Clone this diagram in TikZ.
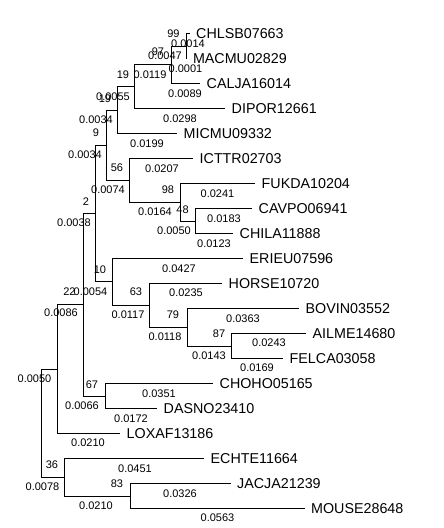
\documentclass[tikz,border=0pt]{standalone}
\usepackage{fontspec}
\setmainfont{Liberation Sans}
\begin{document}
\begin{tikzpicture}[x=1pt,y=-1pt,
  br/.style={draw=black,line width=0.9pt},
  leaf/.style={anchor=west,xshift=6.5pt,inner sep=0pt,font=\fontsize{14.3}{16}\selectfont},
  boot/.style={inner sep=0pt,font=\fontsize{11}{12}\selectfont},
  blen/.style={inner sep=0pt,font=\fontsize{11}{12}\selectfont}]
\fill[white] (0,0) rectangle (444,528);
\useasboundingbox (0,0) rectangle (444,528);
% internal nodes
\coordinate (root) at (41,423.2);
\coordinate (nL) at (57,369.2);
\coordinate (n22) at (83,304.8);
\coordinate (n2) at (95.5,213.6);
\coordinate (n9) at (106,145.2);
\coordinate (n19b) at (117,110);
\coordinate (n19) at (134,86.6);
\coordinate (n97) at (171.5,64.75);
\coordinate (n99) at (186,46);
\coordinate (n56) at (129,180.4);
\coordinate (n98) at (180,202.25);
\coordinate (n48) at (195,221);
\coordinate (n10) at (112.5,281.9);
\coordinate (n63) at (149,305.4);
\coordinate (n79) at (187,327.25);
\coordinate (n87) at (231,346);
\coordinate (n67) at (105,396);
\coordinate (n36) at (64,477.25);
\coordinate (n83) at (130,496);
% leaf tips
\coordinate (tCHLSB) at (189.5,33.5);
\coordinate (tMACMU) at (186.3,58.5);
\coordinate (tCALJA) at (200,83.5);
\coordinate (tDIPOR) at (225,108.5);
\coordinate (tMICMU) at (177,133.5);
\coordinate (tICTTR) at (193,158.5);
\coordinate (tFUKDA) at (255,183.5);
\coordinate (tCAVPO) at (252,208.5);
\coordinate (tCHILA) at (233,233.5);
\coordinate (tERIEU) at (243,258.5);
\coordinate (tHORSE) at (222,283.5);
\coordinate (tBOVIN) at (299,308.5);
\coordinate (tAILME) at (306,333.5);
\coordinate (tFELCA) at (283,358.5);
\coordinate (tCHOHO) at (213,383.5);
\coordinate (tDASNO) at (157,408.5);
\coordinate (tLOXAF) at (120,433.5);
\coordinate (tECHTE) at (204,458.5);
\coordinate (tJACJA) at (230.5,483.5);
\coordinate (tMOUSE) at (304.5,508.5);
% leaf labels
\node[leaf] (CHLSB) at (tCHLSB) {CHLSB07663};
\node[leaf] (MACMU) at (tMACMU) {MACMU02829};
\node[leaf] (CALJA) at (tCALJA) {CALJA16014};
\node[leaf] (DIPOR) at (tDIPOR) {DIPOR12661};
\node[leaf] (MICMU) at (tMICMU) {MICMU09332};
\node[leaf] (ICTTR) at (tICTTR) {ICTTR02703};
\node[leaf] (FUKDA) at (tFUKDA) {FUKDA10204};
\node[leaf] (CAVPO) at (tCAVPO) {CAVPO06941};
\node[leaf] (CHILA) at (tCHILA) {CHILA11888};
\node[leaf] (ERIEU) at (tERIEU) {ERIEU07596};
\node[leaf] (HORSE) at (tHORSE) {HORSE10720};
\node[leaf] (BOVIN) at (tBOVIN) {BOVIN03552};
\node[leaf] (AILME) at (tAILME) {AILME14680};
\node[leaf] (FELCA) at (tFELCA) {FELCA03058};
\node[leaf] (CHOHO) at (tCHOHO) {CHOHO05165};
\node[leaf] (DASNO) at (tDASNO) {DASNO23410};
\node[leaf] (LOXAF) at (tLOXAF) {LOXAF13186};
\node[leaf] (ECHTE) at (tECHTE) {ECHTE11664};
\node[leaf] (JACJA) at (tJACJA) {JACJA21239};
\node[leaf] (MOUSE) at (tMOUSE) {MOUSE28648};
% branches
\draw[br] (root) |- (nL);  \draw[br] (root) |- (n36);
\draw[br] (nL) |- (n22);   \draw[br] (nL) |- (tLOXAF);
\draw[br] (n22) |- (n2);   \draw[br] (n22) |- (n67);
\draw[br] (n2) |- (n9);    \draw[br] (n2) |- (n10);
\draw[br] (n9) |- (n19b);  \draw[br] (n9) |- (n56);
\draw[br] (n19b) |- (n19); \draw[br] (n19b) |- (tMICMU);
\draw[br] (n19) |- (n97);  \draw[br] (n19) |- (tDIPOR);
\draw[br] (n97) |- (n99);  \draw[br] (n97) |- (tCALJA);
\draw[br] (n99) |- (tCHLSB); \draw[br] (n99) |- (tMACMU);
\draw[br] (n56) |- (tICTTR); \draw[br] (n56) |- (n98);
\draw[br] (n98) |- (tFUKDA); \draw[br] (n98) |- (n48);
\draw[br] (n48) |- (tCAVPO); \draw[br] (n48) |- (tCHILA);
\draw[br] (n10) |- (tERIEU); \draw[br] (n10) |- (n63);
\draw[br] (n63) |- (tHORSE); \draw[br] (n63) |- (n79);
\draw[br] (n79) |- (tBOVIN); \draw[br] (n79) |- (n87);
\draw[br] (n87) |- (tAILME); \draw[br] (n87) |- (tFELCA);
\draw[br] (n67) |- (tCHOHO); \draw[br] (n67) |- (tDASNO);
\draw[br] (n36) |- (tECHTE); \draw[br] (n36) |- (n83);
\draw[br] (n83) |- (tJACJA); \draw[br] (n83) |- (tMOUSE);
% bootstrap values
\node[boot] (b99) at (173.5,33.5) {99};
\node[boot] (b97) at (158,52) {97};
\node[boot] (b19) at (123,75) {19};
\node[boot] (b19b) at (105,99) {19};
\node[boot] (b9) at (96,133) {9};
\node[boot] (b56) at (117,168) {56};
\node[boot] (b98) at (168,190) {98};
\node[boot] (b48) at (182.5,209.5) {48};
\node[boot] (b2) at (86,201.5) {2};
\node[boot] (b10) at (100,270) {10};
\node[boot] (b22) at (69.5,292) {22};
\node[boot] (b63) at (136,292) {63};
\node[boot] (b79) at (173,315) {79};
\node[boot] (b87) at (219,334) {87};
\node[boot] (b67) at (92,385) {67};
\node[boot] (b36) at (52,465) {36};
\node[boot] (b83) at (117,484) {83};
% branch lengths
\node[blen] (l1) at (188,44) {0.0014};
\node[blen] (l2) at (165,56) {0.0047};
\node[blen] (l3) at (185.5,68.5) {0.0001};
\node[blen] (l4) at (150,75) {0.0119};
\node[blen] (l5) at (185,94) {0.0089};
\node[blen] (l6) at (113,97) {0.0055};
\node[blen] (l7) at (180,119) {0.0298};
\node[blen] (l8) at (96,120) {0.0034};
\node[blen] (l9) at (147,144) {0.0199};
\node[blen] (l10) at (85,155) {0.0034};
\node[blen] (l11) at (162,169) {0.0207};
\node[blen] (l12) at (108,190) {0.0074};
\node[blen] (l13) at (217.5,194) {0.0241};
\node[blen] (l14) at (155,212) {0.0164};
\node[blen] (l15) at (224,219) {0.0183};
\node[blen] (l16) at (74,223) {0.0038};
\node[blen] (l17) at (174,231) {0.0050};
\node[blen] (l18) at (214,243.5) {0.0123};
\node[blen] (l19) at (179,269) {0.0427};
\node[blen] (l20) at (90.5,292) {0.0054};
\node[blen] (l21) at (186,293) {0.0235};
\node[blen] (l22) at (61,313) {0.0086};
\node[blen] (l23) at (128,315) {0.0117};
\node[blen] (l24) at (243,319) {0.0363};
\node[blen] (l25) at (165,337) {0.0118};
\node[blen] (l26) at (269,343) {0.0243};
\node[blen] (l27) at (209,356) {0.0143};
\node[blen] (l28) at (257,368) {0.0169};
\node[blen] (l29) at (34.5,379) {0.0050};
\node[blen] (l30) at (159,394) {0.0351};
\node[blen] (l31) at (82,406) {0.0066};
\node[blen] (l32) at (131,419) {0.0172};
\node[blen] (l33) at (88,443) {0.0210};
\node[blen] (l34) at (135,469) {0.0451};
\node[blen] (l35) at (42.5,487) {0.0078};
\node[blen] (l36) at (180,494) {0.0326};
\node[blen] (l37) at (96,506) {0.0210};
\node[blen] (l38) at (217.5,518) {0.0563};
\end{tikzpicture}
\end{document}
